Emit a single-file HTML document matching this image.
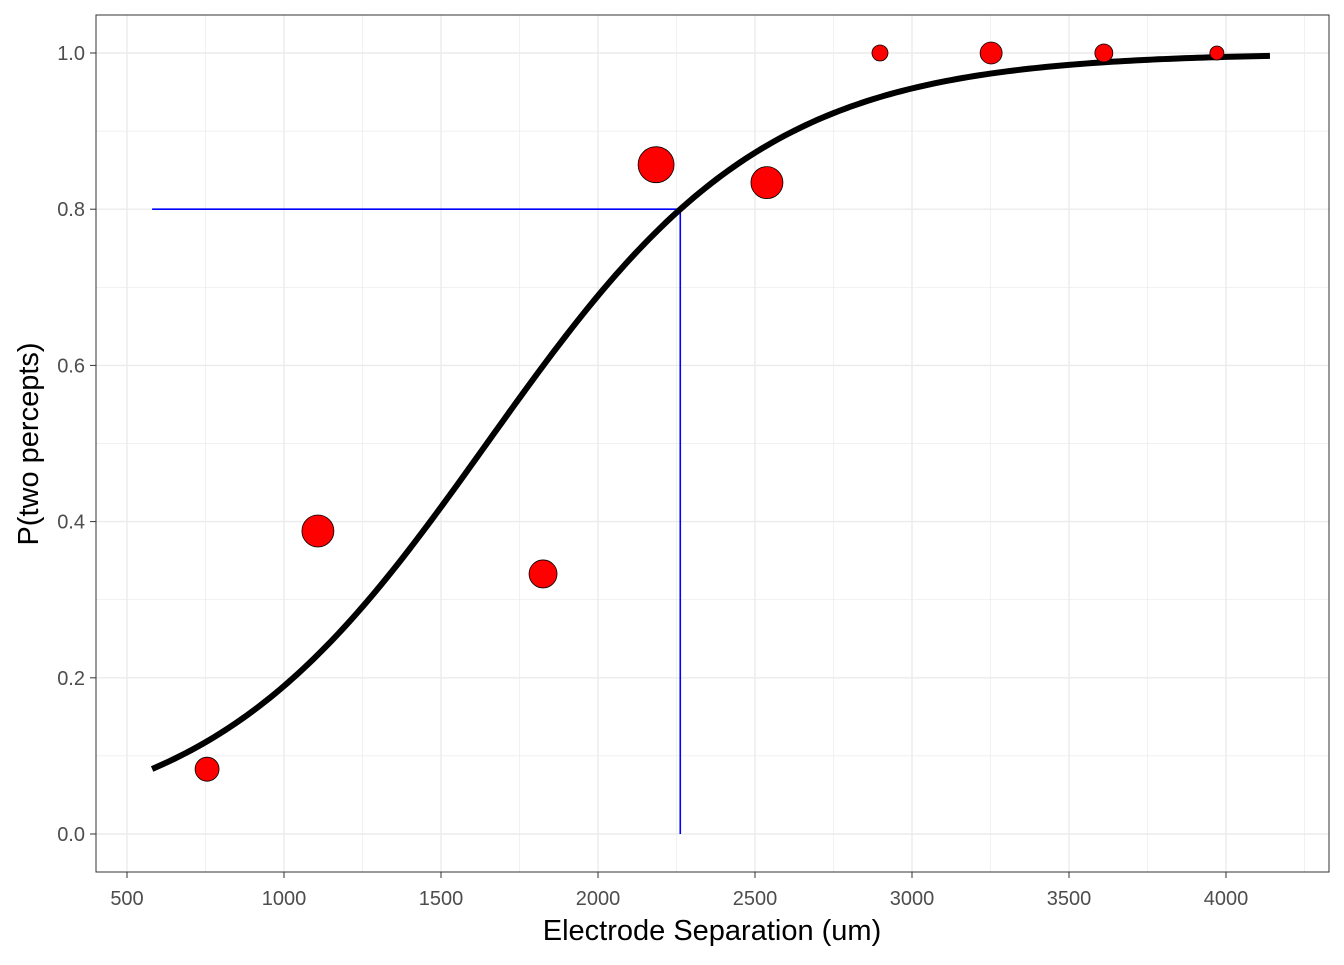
<!DOCTYPE html>
<html><head><meta charset="utf-8"><style>
body{margin:0;background:#fff;font-family:"Liberation Sans",sans-serif}
</style></head><body>
<svg id="chart" width="1344" height="960" xmlns="http://www.w3.org/2000/svg">
<rect x="96" y="15" width="1233" height="857" fill="#fff"/>
<g id="grid"></g>
<g id="marks"></g>
<rect x="96" y="15" width="1233" height="857" fill="none" stroke="#333" stroke-width="1"/>
<g id="axes" font-size="20" fill="#4d4d4d"></g>
<text x="712" y="940" text-anchor="middle" font-size="29" fill="#000">Electrode Separation (um)</text>
<text transform="translate(38,444) rotate(-90)" text-anchor="middle" font-size="29" fill="#000">P(two percepts)</text>
</svg>
<script>
const xTicks=[500,1000,1500,2000,2500,3000,3500,4000];
const yTicks=[0,0.2,0.4,0.6,0.8,1.0];
const pointX=[755,1108,1825,2185,2538,2898,3252,3611,3971];
const pointY=[0.083,0.388,0.333,0.857,0.834,1,1,1,1];
const pointR=[12,16,14,18,16,8,11,9,7];
const fitSlope=0.00225, fitMid=1646, fitXmin=580, fitXmax=4140;
const targetP=0.8, targetX=2262;
const NS="http://www.w3.org/2000/svg";
const sx=v=>127+(v-500)*0.3140, sy=v=>834-v*781;
function mk(t,a,p){const e=document.createElementNS(NS,t);for(const k in a)e.setAttribute(k,a[k]);p.appendChild(e);return e;}
const grid=document.getElementById('grid'),marks=document.getElementById('marks'),axes=document.getElementById('axes');
for(let v=250;v<=4250;v+=250){const x=sx(v);if(x<96||x>1329)continue;const maj=v%500===0;
 const l=mk('line',{x1:x,x2:x,y1:15,y2:872,stroke:'#ebebeb','stroke-width':maj?1.4:0.7},grid);
 }
for(let v=-0.1;v<=1.05;v+=0.1){const y=sy(v);if(y<15||y>872)continue;const maj=Math.round(v*10)%2===0;
 const l=mk('line',{x1:96,x2:1329,y1:y,y2:y,stroke:'#ebebeb','stroke-width':maj?1.4:0.7},grid);
 }
xTicks.forEach(v=>{const x=sx(v);mk('line',{x1:x,x2:x,y1:872,y2:878,stroke:'#333'},axes);
 const t=mk('text',{x:x,y:905,'text-anchor':'middle'},axes);t.textContent=v;
 });
yTicks.forEach(v=>{const y=sy(v);mk('line',{x1:90,x2:96,y1:y,y2:y,stroke:'#333'},axes);
 const t=mk('text',{x:85,y:y+7,'text-anchor':'end'},axes);t.textContent=v.toFixed(1);
 });
const bl=mk('polyline',{points:`${sx(fitXmin)},${sy(targetP)} ${sx(targetX)},${sy(targetP)} ${sx(targetX)},${sy(0)}`,fill:'none',stroke:'#0000ff','stroke-width':1.6},marks);

let pts=[];for(let i=0;i<=200;i++){const v=fitXmin+(fitXmax-fitXmin)*i/200;const p=1/(1+Math.exp(-fitSlope*(v-fitMid)));pts.push(sx(v)+','+sy(p));}
const c=mk('polyline',{points:pts.join(' '),fill:'none',stroke:'#000','stroke-width':6,'stroke-linejoin':'round'},marks);

pointX.forEach((v,i)=>{const p=mk('circle',{cx:sx(v),cy:sy(pointY[i]),r:pointR[i],fill:'#ff0000',stroke:'#000','stroke-width':0.8},marks);
 });
</script>
</body></html>
